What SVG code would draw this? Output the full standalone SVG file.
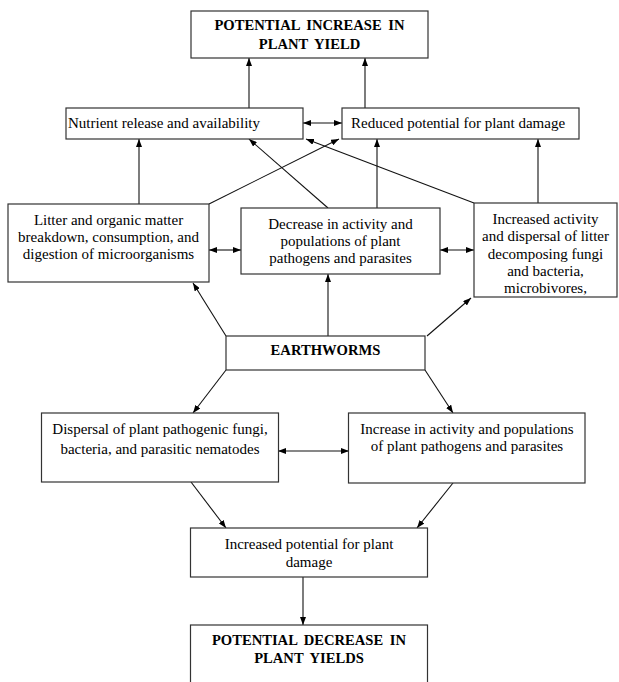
<svg xmlns="http://www.w3.org/2000/svg" width="619" height="682" viewBox="0 0 619 682">
<defs>
<marker id="ah" viewBox="0 0 8 6" refX="8" refY="3" markerWidth="8" markerHeight="6" markerUnits="userSpaceOnUse" orient="auto-start-reverse">
<path d="M0,0 L8,3 L0,6 z" fill="#000"/>
</marker>
<style>
.box{fill:#fff;stroke:#333;stroke-width:1.2}
.t{font-family:"Liberation Serif","Times New Roman",serif;font-size:15px;fill:#000}
.c{text-anchor:middle}
.b{font-weight:bold;font-size:14.6px;word-spacing:3px}
.ln{stroke:#111;stroke-width:1.1;fill:none;marker-end:url(#ah)}
.dl{marker-start:url(#ah)}
</style>
</defs>
<rect width="619" height="682" fill="#fff"/>
<g id="connectors">
<line class="ln" x1="249" y1="108" x2="249" y2="58"/>
<line class="ln" x1="365" y1="108" x2="365" y2="58"/>
<line class="ln dl" x1="303" y1="123" x2="342" y2="123"/>
<line class="ln" x1="139" y1="204" x2="139" y2="139"/>
<line class="ln" x1="209" y1="204" x2="339" y2="139"/>
<line class="ln" x1="328" y1="208" x2="249" y2="139"/>
<line class="ln" x1="377" y1="208" x2="377" y2="139"/>
<line class="ln" x1="474" y1="203" x2="306" y2="139"/>
<line class="ln" x1="538" y1="203" x2="538" y2="139"/>
<line class="ln dl" x1="209" y1="250" x2="241" y2="250"/>
<line class="ln dl" x1="440" y1="250" x2="474" y2="250"/>
<line class="ln" x1="226" y1="336" x2="193" y2="283"/>
<line class="ln" x1="328" y1="336" x2="328" y2="274"/>
<line class="ln" x1="427" y1="336" x2="471" y2="298"/>
<line class="ln" x1="226" y1="370" x2="193" y2="413"/>
<line class="ln" x1="425" y1="370" x2="453" y2="413"/>
<line class="ln dl" x1="278" y1="451" x2="349" y2="451"/>
<line class="ln" x1="191" y1="482" x2="226" y2="528"/>
<line class="ln" x1="453" y1="483" x2="417" y2="528"/>
<line class="ln" x1="303" y1="577" x2="303" y2="625"/>
</g>
<g id="top">
<rect class="box" x="191" y="11" width="237" height="47"/>
<text class="t c b" x="309.5" y="30">POTENTIAL INCREASE IN</text>
<text class="t c b" x="309.5" y="48.5">PLANT YIELD</text>
</g>
<g id="nutrient">
<rect class="box" x="66" y="108" width="237" height="31"/>
<text class="t" x="68" y="127.5">Nutrient release and availability</text>
</g>
<g id="reduced">
<rect class="box" x="342" y="108" width="237" height="31"/>
<text class="t" x="351" y="127.5">Reduced potential for plant damage</text>
</g>
<g id="litter">
<rect class="box" x="8" y="204" width="201" height="78"/>
<text class="t c" x="108.5" y="224.5">Litter and organic matter</text>
<text class="t c" x="108.5" y="241.5">breakdown, consumption, and</text>
<text class="t c" x="108.5" y="258.5">digestion of microorganisms</text>
</g>
<g id="decrease">
<rect class="box" x="241" y="208" width="199" height="66"/>
<text class="t c" x="340.5" y="228.5">Decrease in activity and</text>
<text class="t c" x="340.5" y="245.5">populations of plant</text>
<text class="t c" x="340.5" y="262.5">pathogens and parasites</text>
</g>
<g id="increased-activity">
<rect class="box" x="474" y="203" width="143" height="94"/>
<text class="t c" x="545.5" y="223.5">Increased activity</text>
<text class="t c" x="545.5" y="241">and dispersal of litter</text>
<text class="t c" x="545.5" y="258.5">decomposing fungi</text>
<text class="t c" x="545.5" y="275.5">and bacteria,</text>
<text class="t c" x="545.5" y="292.5">microbivores,</text>
</g>
<g id="earthworms">
<rect class="box" x="226" y="336" width="199" height="34"/>
<text class="t c b" x="325.5" y="354.5">EARTHWORMS</text>
</g>
<g id="dispersal">
<rect class="box" x="41.5" y="413" width="237" height="69"/>
<text class="t c" x="160" y="433.5">Dispersal of plant pathogenic fungi,</text>
<text class="t c" x="160" y="453.5">bacteria, and parasitic nematodes</text>
</g>
<g id="increase">
<rect class="box" x="348.5" y="413" width="236.5" height="70"/>
<text class="t c" x="467" y="433.5">Increase in activity and populations</text>
<text class="t c" x="467" y="450.5">of plant pathogens and parasites</text>
</g>
<g id="increased-potential">
<rect class="box" x="190.5" y="528" width="237" height="49"/>
<text class="t c" x="309" y="548.5">Increased potential for plant</text>
<text class="t c" x="309" y="566.5">damage</text>
</g>
<g id="bottom">
<rect class="box" x="190.5" y="625" width="237" height="70"/>
<text class="t c b" x="309" y="644.5">POTENTIAL DECREASE IN</text>
<text class="t c b" x="309" y="662.5">PLANT YIELDS</text>
</g>
</svg>
